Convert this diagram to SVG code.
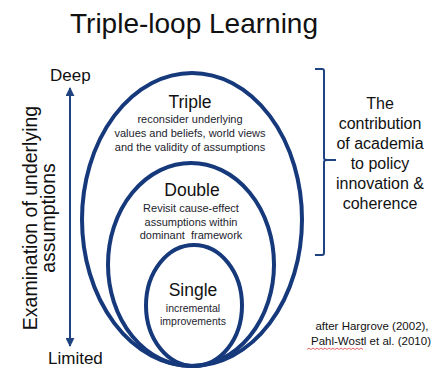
<svg xmlns="http://www.w3.org/2000/svg" width="447" height="368" viewBox="0 0 447 368">
  <style>
    text { font-family: "Liberation Sans", Arial, sans-serif; fill: #111; }
    .title { font-size: 28px; }
    .axis { font-size: 17px; }
    .vert { font-size: 19.5px; }
    .loop { stroke: #16397c; stroke-width: 4; fill: none; }
    .head { font-size: 17.5px; }
    .sub { font-size: 11px; fill: #1d1d2e; }
    .side { font-size: 16px; }
    .cite { font-size: 11.5px; }
    .conn { stroke: #1f4380; stroke-width: 2; fill: none; }
  </style>
  <defs>
    <marker id="tip" viewBox="0 0 10 10" refX="9" refY="5" markerWidth="4.5" markerHeight="4.5" orient="auto-start-reverse">
      <path d="M0,0 L10,5 L0,10 z" fill="#1f4380"/>
    </marker>
  </defs>
  <rect width="447" height="368" fill="#fff"/>

  <text class="title" x="194" y="33" text-anchor="middle">Triple-loop Learning</text>

  <g id="axis">
    <text class="axis" x="50" y="81">Deep</text>
    <text class="axis" x="48" y="364">Limited</text>
    <g transform="translate(37,218) rotate(-90)">
      <text class="vert" x="0" y="0" text-anchor="middle">Examination of underlying</text>
      <text class="vert" x="0" y="18" text-anchor="middle">assumptions</text>
    </g>
  </g>

  <g id="connectors">
    <line class="conn" x1="70" y1="88" x2="70" y2="346" marker-start="url(#tip)" marker-end="url(#tip)"/>
    <path class="conn" d="M315,69 H322 Q324,69 324,71 V158 Q324,160 327,160 H336 M327,160 Q324,160 324,162 V253 Q324,255 322,255 H315"/>
  </g>

  <g id="triple">
    <ellipse class="loop" cx="192" cy="219.5" rx="110" ry="146.5"/>
    <text class="head" x="190" y="108" text-anchor="middle">Triple</text>
    <text class="sub" x="190" y="123" text-anchor="middle">reconsider underlying</text>
    <text class="sub" x="190" y="137" text-anchor="middle">values and beliefs, world views</text>
    <text class="sub" x="190" y="151" text-anchor="middle">and the validity of assumptions</text>
  </g>

  <g id="double">
    <ellipse class="loop" cx="191" cy="264.5" rx="83" ry="101.5"/>
    <text class="head" x="192" y="196" text-anchor="middle">Double</text>
    <text class="sub" x="191" y="212" text-anchor="middle">Revisit cause-effect</text>
    <text class="sub" x="191" y="226" text-anchor="middle">assumptions within</text>
    <text class="sub" x="191" y="239" text-anchor="middle" xml:space="preserve">dominant  framework</text>
  </g>

  <g id="single">
    <ellipse class="loop" cx="194" cy="305.5" rx="48" ry="60.5"/>
    <text class="head" x="193" y="296" text-anchor="middle">Single</text>
    <text class="sub" x="193" y="312" text-anchor="middle" style="font-size:10.5px">incremental</text>
    <text class="sub" x="193" y="325" text-anchor="middle" style="font-size:10.5px">improvements</text>
  </g>

  <g id="contribution">
    <text class="side" x="380" y="109" text-anchor="middle">The</text>
    <text class="side" x="380" y="129" text-anchor="middle">contribution</text>
    <text class="side" x="380" y="149" text-anchor="middle">of academia</text>
    <text class="side" x="380" y="169" text-anchor="middle">to policy</text>
    <text class="side" x="380" y="189" text-anchor="middle">innovation &amp;</text>
    <text class="side" x="380" y="209" text-anchor="middle">coherence</text>
  </g>

  <g id="citation">
    <text class="cite" x="372" y="330" text-anchor="middle">after Hargrove (2002),</text>
    <text class="cite" x="371" y="345" text-anchor="middle">Pahl-Wostl et al. (2010)</text>
    <path d="M307,349.5 l2,-1.5 l2,1.5 l2,-1.5 l2,1.5 l2,-1.5 l2,1.5 l2,-1.5 l2,1.5 l2,-1.5 l2,1.5 l2,-1.5 l2,1.5 l2,-1.5 l2,1.5 l2,-1.5 l2,1.5 l2,-1.5 l2,1.5 l2,-1.5 l2,1.5 l2,-1.5 l2,1.5 l2,-1.5 l2,1.5 l2,-1.5 l2,1.5 l2,-1.5 l2,1.5" stroke="#e04040" stroke-width="0.8" fill="none"/>
  </g>
</svg>
